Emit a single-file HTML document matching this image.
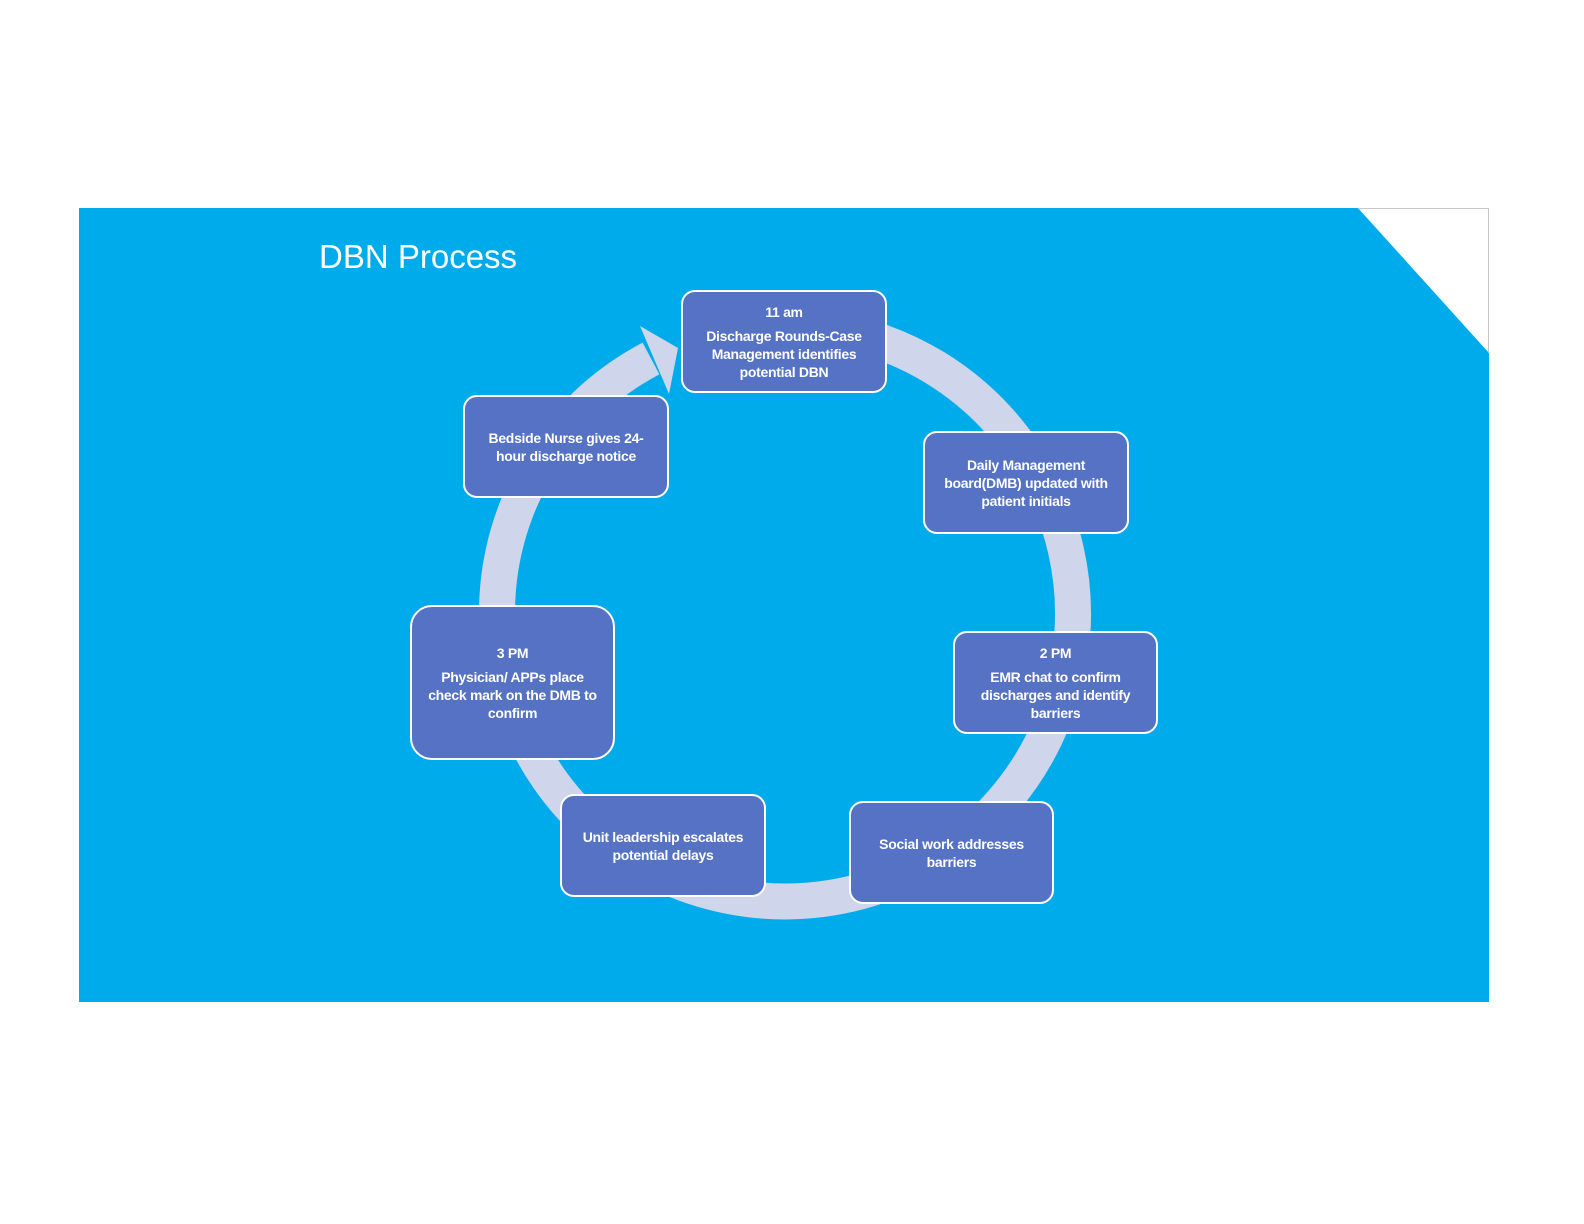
<!DOCTYPE html>
<html><head><meta charset="utf-8"><style>
html,body{margin:0;padding:0;background:#fff;}
body{width:1584px;height:1224px;position:relative;overflow:hidden;font-family:"Liberation Sans",sans-serif;}
.b{position:absolute;box-sizing:border-box;background:#5572c4;border:2px solid #fff;border-radius:14px;color:#fff;font-weight:bold;font-size:14px;line-height:18px;text-align:center;display:flex;flex-direction:column;justify-content:center;align-items:center;padding:0 10px;letter-spacing:-0.3px}
.b .t{margin-bottom:6px}
</style></head><body>
<svg width="1584" height="1224" style="position:absolute;left:0;top:0">
<rect x="79" y="208" width="1410" height="794" fill="#00abeb"/>
<polygon points="1358,208 1489,208 1489,353" fill="#fff"/>
<polyline points="1358,208.5 1488.5,208.5 1488.5,353" fill="none" stroke="#c8c8c8" stroke-width="1"/>
<text x="319" y="268" fill="#fff" font-size="33" font-family="Liberation Sans, sans-serif">DBN Process</text>
<path d="M734,330 A288,288 0 1 1 651,358.5" fill="none" stroke="#cfd5ea" stroke-width="36"/>
<polygon points="640,326 678,348 669,394" fill="#cfd5ea"/>
</svg>
<div class="b" style="left:681px;top:290px;width:206px;height:103px"><div class="t">11 am</div>Discharge Rounds-Case Management identifies potential DBN</div>
<div class="b" style="left:923px;top:431px;width:206px;height:103px">Daily Management board(DMB) updated with patient initials</div>
<div class="b" style="left:953px;top:631px;width:205px;height:103px"><div class="t">2 PM</div>EMR chat to confirm discharges and identify barriers</div>
<div class="b" style="left:849px;top:801px;width:205px;height:103px">Social work addresses barriers</div>
<div class="b" style="left:560px;top:794px;width:206px;height:103px">Unit leadership escalates potential delays</div>
<div class="b" style="left:410px;top:605px;width:205px;height:155px;border-radius:22px"><div class="t">3 PM</div>Physician/ APPs place check mark on the DMB to confirm</div>
<div class="b" style="left:463px;top:395px;width:206px;height:103px">Bedside Nurse gives 24-hour discharge notice</div>
</body></html>
